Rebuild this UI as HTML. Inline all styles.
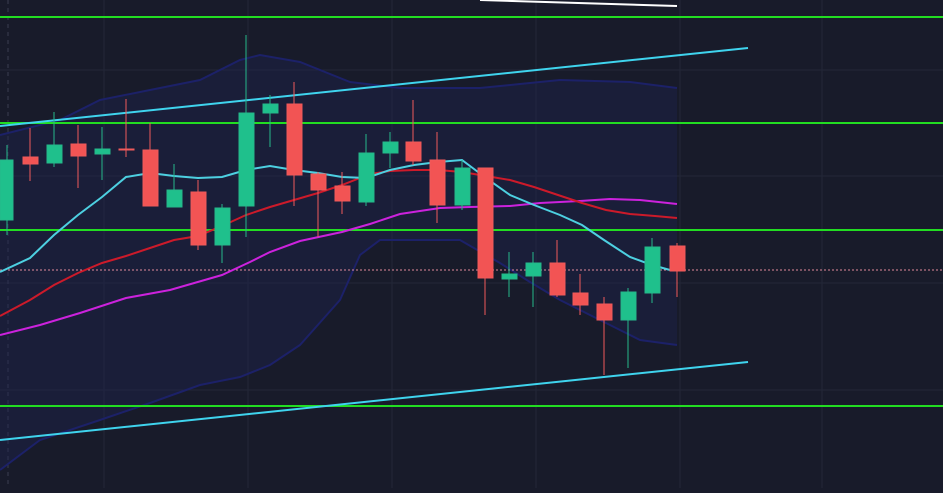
<!DOCTYPE html>
<html><head><style>html,body{margin:0;padding:0;background:#181b2a;overflow:hidden}</style></head>
<body>
<svg width="943" height="488" viewBox="0 0 943 488" xmlns="http://www.w3.org/2000/svg">
<rect width="943" height="488" fill="#181b2a"/>
<g stroke="#232738" stroke-width="1">
<line x1="104" y1="0" x2="104" y2="488"/><line x1="248" y1="0" x2="248" y2="488"/><line x1="392" y1="0" x2="392" y2="488"/><line x1="536" y1="0" x2="536" y2="488"/><line x1="680" y1="0" x2="680" y2="488"/><line x1="822" y1="0" x2="822" y2="488"/>
<line x1="0" y1="70" x2="943" y2="70"/><line x1="0" y1="176" x2="943" y2="176"/><line x1="0" y1="283" x2="943" y2="283"/><line x1="0" y1="390" x2="943" y2="390"/>
</g>
<line x1="8" y1="0" x2="8" y2="488" stroke="#3a3e50" stroke-dasharray="4,4"/>
<polygon fill="#1d2250" fill-opacity="0.4" points="0,135 60,120 100,100 150,90 200,80 240,60 260,55 300,62 350,82 400,88 480,88 520,84 560,80 630,82 677,88 677,345 640,340 600,320 560,300 530,282 500,263 460,240 380,240 360,255 340,300 300,345 270,365 240,377 200,385 150,403 100,420 40,440 0,470"/>
<polyline fill="none" stroke="#1c2168" stroke-width="2" points="0,135 60,120 100,100 150,90 200,80 240,60 260,55 300,62 350,82 400,88 480,88 520,84 560,80 630,82 677,88"/>
<polyline fill="none" stroke="#1c2168" stroke-width="2" points="0,470 40,440 100,420 150,403 200,385 240,377 270,365 300,345 340,300 360,255 380,240 460,240 500,263 530,282 560,300 600,320 640,340 677,345"/>
<g stroke="#22dd22" stroke-width="2">
<line x1="0" y1="17" x2="943" y2="17"/><line x1="0" y1="123" x2="943" y2="123"/><line x1="0" y1="230" x2="943" y2="230"/><line x1="0" y1="406" x2="943" y2="406"/>
</g>
<line x1="0" y1="270" x2="943" y2="270" stroke="#e08a9a" stroke-dasharray="2,2"/>
<line x1="480" y1="0" x2="677" y2="6" stroke="#ffffff" stroke-width="2"/>
<line x1="0" y1="126" x2="748" y2="48" stroke="#3fd4ee" stroke-width="2"/>
<line x1="0" y1="440" x2="748" y2="362" stroke="#3fd4ee" stroke-width="2"/>
<polyline fill="none" stroke="#cc22dd" stroke-width="2" points="0,335 40,325 80,313 126,298 170,290 222,275 250,262 270,252 300,241 342,232 370,224 400,214 440,208 470,207 510,206 540,203 580,201 610,199 640,200 677,204"/>
<polyline fill="none" stroke="#cc1a2a" stroke-width="2" points="0,316 30,300 54,285 78,273 102,263 126,256 150,248 174,240 198,236 222,226 246,215 270,207 294,200 318,193 342,185 370,174 390,171 414,170 438,170 462,172 486,176 510,180 534,187 558,195 582,203 606,210 630,214 655,216 677,218"/>
<polyline fill="none" stroke="#4dd0e1" stroke-width="2" points="0,272 30,258 54,235 78,215 102,197 126,177 150,173 174,176 198,178 222,177 246,170 270,166 294,170 318,173 342,177 366,178 390,170 414,165 438,162 462,160 486,178 510,195 534,205 560,215 582,225 604,240 630,257 652,265 670,270"/>
<g stroke-width="1">
<g stroke="#26b88a" fill="#1fc08c"><line x1="7" y1="145" x2="7" y2="235"/><rect x="0" y="160" width="13" height="60"/></g>
<g stroke="#f05a5a" fill="#f25454"><line x1="30" y1="128" x2="30" y2="181"/><rect x="23" y="157" width="15" height="7"/></g>
<g stroke="#26b88a" fill="#1fc08c"><line x1="54" y1="112" x2="54" y2="167"/><rect x="47" y="145" width="15" height="18"/></g>
<g stroke="#f05a5a" fill="#f25454"><line x1="78" y1="125" x2="78" y2="188"/><rect x="71" y="144" width="15" height="12"/></g>
<g stroke="#26b88a" fill="#1fc08c"><line x1="102" y1="127" x2="102" y2="180"/><rect x="95" y="149" width="15" height="5"/></g>
<g stroke="#f05a5a" fill="#f25454"><line x1="126" y1="99" x2="126" y2="157"/><rect x="119" y="149" width="15" height="1"/></g>
<g stroke="#f05a5a" fill="#f25454"><line x1="150" y1="123" x2="150" y2="206"/><rect x="143" y="150" width="15" height="56"/></g>
<g stroke="#26b88a" fill="#1fc08c"><line x1="174" y1="164" x2="174" y2="207"/><rect x="167" y="190" width="15" height="17"/></g>
<g stroke="#f05a5a" fill="#f25454"><line x1="198" y1="180" x2="198" y2="250"/><rect x="191" y="192" width="15" height="53"/></g>
<g stroke="#26b88a" fill="#1fc08c"><line x1="222" y1="204" x2="222" y2="263"/><rect x="215" y="208" width="15" height="37"/></g>
<g stroke="#26b88a" fill="#1fc08c"><line x1="246" y1="35" x2="246" y2="237"/><rect x="239" y="113" width="15" height="93"/></g>
<g stroke="#26b88a" fill="#1fc08c"><line x1="270" y1="95" x2="270" y2="147"/><rect x="263" y="104" width="15" height="9"/></g>
<g stroke="#f05a5a" fill="#f25454"><line x1="294" y1="82" x2="294" y2="206"/><rect x="287" y="104" width="15" height="71"/></g>
<g stroke="#f05a5a" fill="#f25454"><line x1="318" y1="172" x2="318" y2="237"/><rect x="311" y="174" width="15" height="16"/></g>
<g stroke="#f05a5a" fill="#f25454"><line x1="342" y1="172" x2="342" y2="214"/><rect x="335" y="186" width="15" height="15"/></g>
<g stroke="#26b88a" fill="#1fc08c"><line x1="366" y1="134" x2="366" y2="206"/><rect x="359" y="153" width="15" height="49"/></g>
<g stroke="#26b88a" fill="#1fc08c"><line x1="390" y1="132" x2="390" y2="168"/><rect x="383" y="142" width="15" height="11"/></g>
<g stroke="#f05a5a" fill="#f25454"><line x1="413" y1="100" x2="413" y2="165"/><rect x="406" y="142" width="15" height="19"/></g>
<g stroke="#f05a5a" fill="#f25454"><line x1="437" y1="132" x2="437" y2="223"/><rect x="430" y="160" width="15" height="45"/></g>
<g stroke="#26b88a" fill="#1fc08c"><line x1="462" y1="160" x2="462" y2="210"/><rect x="455" y="168" width="15" height="37"/></g>
<g stroke="#f05a5a" fill="#f25454"><line x1="485" y1="168" x2="485" y2="315"/><rect x="478" y="168" width="15" height="110"/></g>
<g stroke="#26b88a" fill="#1fc08c"><line x1="509" y1="252" x2="509" y2="297"/><rect x="502" y="274" width="15" height="5"/></g>
<g stroke="#26b88a" fill="#1fc08c"><line x1="533" y1="252" x2="533" y2="307"/><rect x="526" y="263" width="15" height="13"/></g>
<g stroke="#f05a5a" fill="#f25454"><line x1="557" y1="240" x2="557" y2="297"/><rect x="550" y="263" width="15" height="32"/></g>
<g stroke="#f05a5a" fill="#f25454"><line x1="580" y1="274" x2="580" y2="315"/><rect x="573" y="293" width="15" height="12"/></g>
<g stroke="#f05a5a" fill="#f25454"><line x1="604" y1="297" x2="604" y2="375"/><rect x="597" y="304" width="15" height="16"/></g>
<g stroke="#26b88a" fill="#1fc08c"><line x1="628" y1="288" x2="628" y2="368"/><rect x="621" y="292" width="15" height="28"/></g>
<g stroke="#26b88a" fill="#1fc08c"><line x1="652" y1="238" x2="652" y2="303"/><rect x="645" y="247" width="15" height="46"/></g>
<g stroke="#f05a5a" fill="#f25454"><line x1="677" y1="243" x2="677" y2="297"/><rect x="670" y="246" width="15" height="25"/></g>
</g>
</svg>
</body></html>
